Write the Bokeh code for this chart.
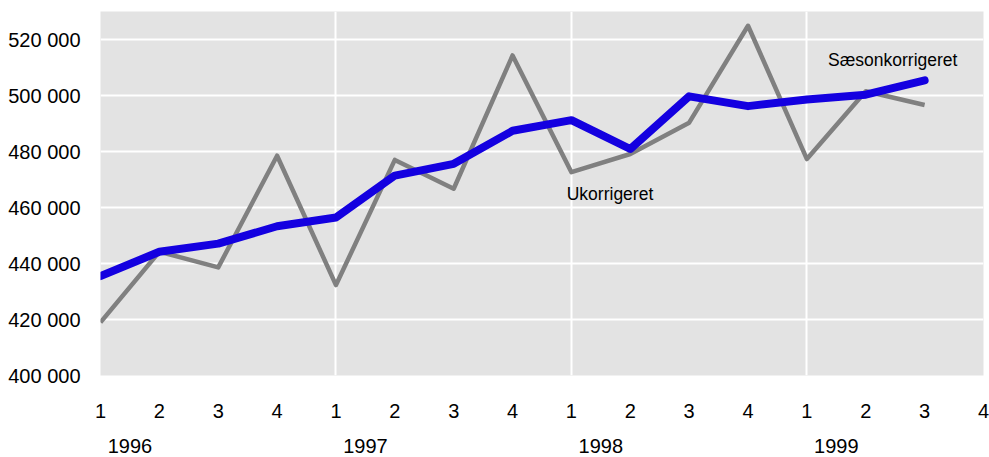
from bokeh.plotting import figure
from bokeh.models import FixedTicker, LinearAxis, Range1d
from bokeh.core.properties import value
from bokeh.embed import file_html
from bokeh.resources import INLINE

quarters = list(range(15))
ukorrigeret = [419000, 444200, 438600, 478500, 432300, 477000, 466700, 514300,
               472600, 479100, 490300, 524900, 477300, 501500, 496600]
saesonkorrigeret = [435500, 444200, 447100, 453300, 456400, 471400, 475600, 487400,
                    491200, 480900, 499700, 496200, 498600, 500300, 505400]
quarter_ticks = list(range(16))
quarter_labels = ["1", "2", "3", "4"] * 4
year_ticks = [0.5, 4.5, 8.5, 12.5]
year_labels = ["1996", "1997", "1998", "1999"]
y_ticks = [400000, 420000, 440000, 460000, 480000, 500000, 520000]
y_labels = ["400 000", "420 000", "440 000", "460 000", "480 000", "500 000", "520 000"]

FONT = "Liberation Sans"


def style_axis(ax, standoff, size):
    ax.axis_line_color = None
    ax.major_tick_line_color = None
    ax.minor_tick_line_color = None
    ax.major_tick_out = 0
    ax.major_tick_in = 0
    ax.minor_tick_out = 0
    ax.minor_tick_in = 0
    ax.major_label_standoff = standoff
    ax.major_label_text_font = FONT
    ax.major_label_text_font_size = size
    ax.major_label_text_color = "black"


p = figure(width=989, height=457, output_backend="svg", toolbar_location=None,
           x_range=Range1d(0, 15), y_range=Range1d(400000, 530000),
           min_border_left=100, min_border_right=6, min_border_top=11,
           min_border_bottom=82)
p.outline_line_color = None
p.background_fill_color = "#e3e3e3"
p.border_fill_color = "white"

p.ygrid.ticker = FixedTicker(ticks=y_ticks)
p.ygrid.grid_line_color = "white"
p.ygrid.grid_line_width = 2
p.xgrid.ticker = FixedTicker(ticks=[4, 8, 12])
p.xgrid.grid_line_color = "white"
p.xgrid.grid_line_width = 2

yax = p.yaxis[0]
yax.ticker = FixedTicker(ticks=y_ticks)
yax.major_label_overrides = {t: l for t, l in zip(y_ticks, y_labels)}
style_axis(yax, 20, "20px")

xax = p.xaxis[0]
xax.ticker = FixedTicker(ticks=quarter_ticks)
xax.major_label_overrides = {t: l for t, l in zip(quarter_ticks, quarter_labels)}
style_axis(xax, 28, "20px")

yr = LinearAxis(ticker=FixedTicker(ticks=year_ticks),
                major_label_overrides={t: l for t, l in zip(year_ticks, year_labels)})
style_axis(yr, 18, "20px")
p.add_layout(yr, "below")

p.line(quarters, ukorrigeret, line_color="#808080", line_width=4.5, line_join="round")
p.line(quarters, saesonkorrigeret, line_color="#1400e0", line_width=8,
       line_join="round", line_cap="round")

label_x = [7.92, 12.36]
label_y = [465000, 512600]
label_text = ["Ukorrigeret", "Sæsonkorrigeret"]
p.text(label_x, label_y, text=label_text, text_font=value(FONT),
       text_font_size="17.5px", text_baseline="middle", text_align="left",
       text_color="black")

open("out.html", "w").write(file_html(p, INLINE))
